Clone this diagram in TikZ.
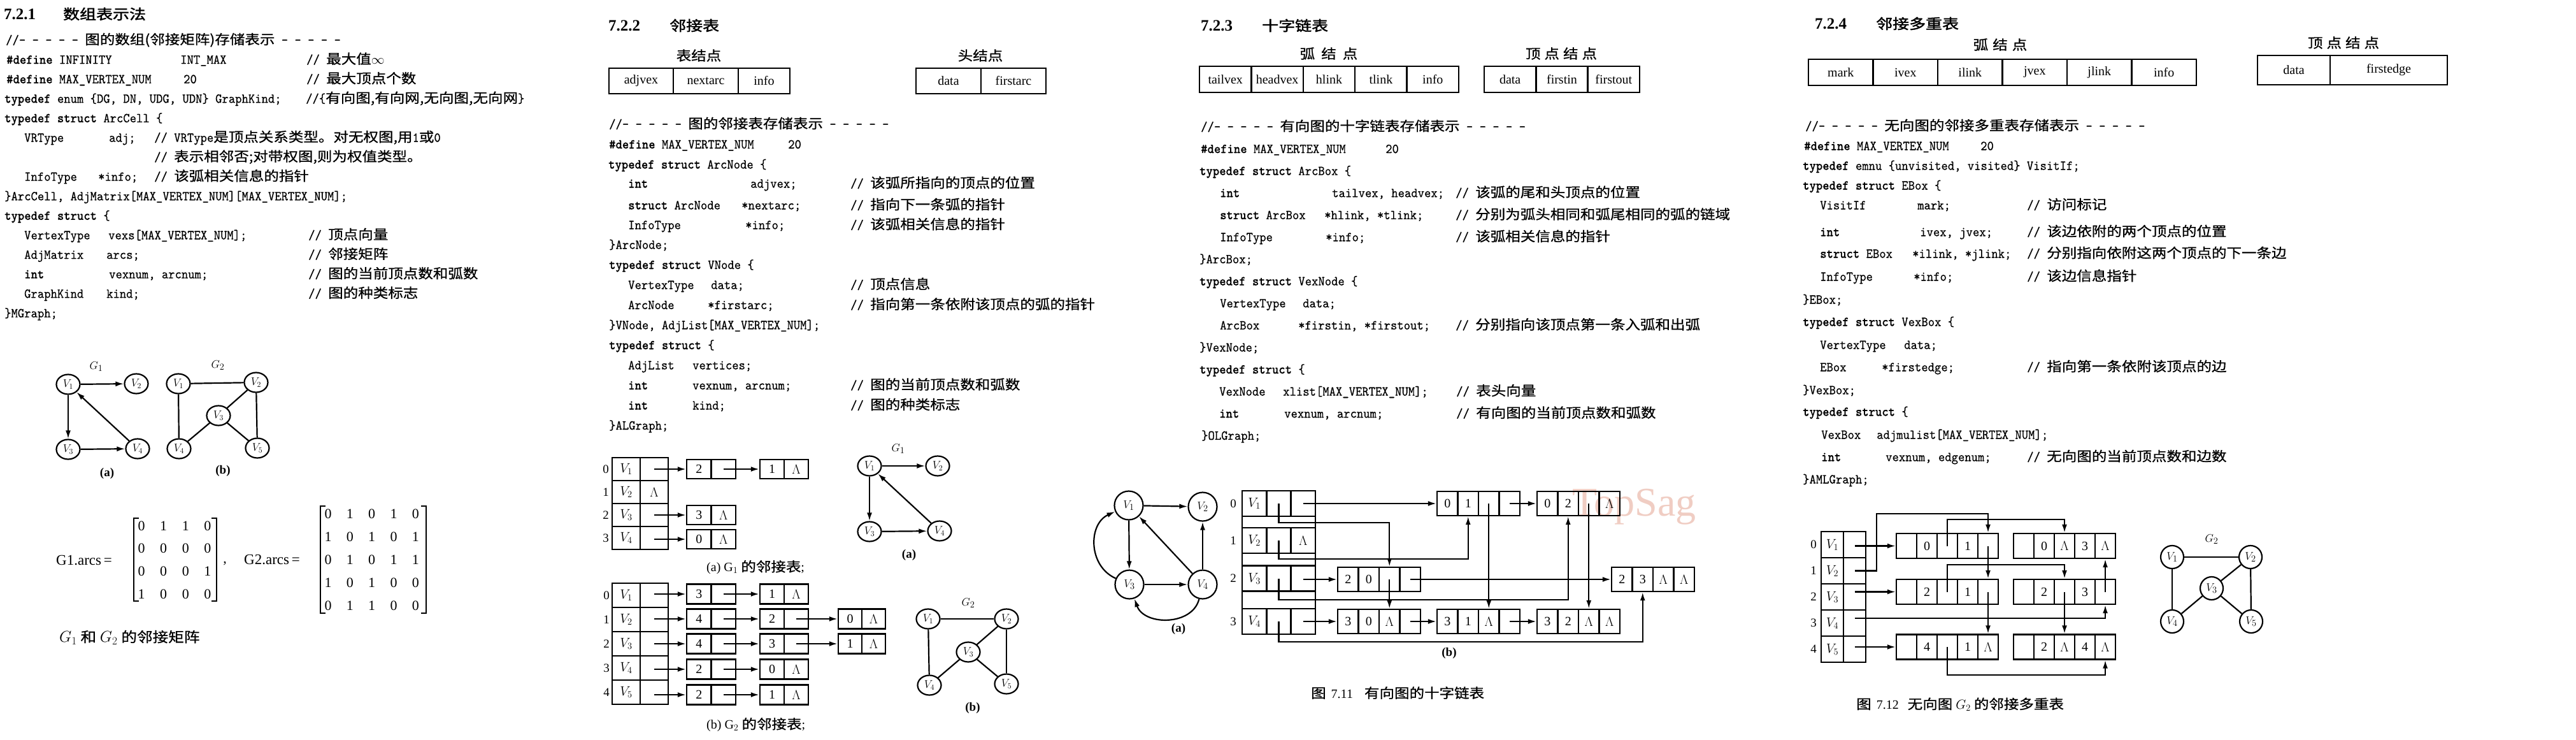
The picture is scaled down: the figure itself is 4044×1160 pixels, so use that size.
\documentclass[tikz,border=0pt]{standalone}
\usepackage{fontspec}
\setmainfont{Liberation Serif}
\newfontfamily\cf{lmmono10-regular.otf}[BoldFont=lmmonolt10-bold.otf, FakeStretch=0.925, FakeBold=0.5]
\newfontfamily\cjkf[FakeStretch=1.12,FakeBold=0.8]{Noto Sans CJK SC}
\newfontfamily\cjkb[FakeStretch=1.18,FakeBold=2]{Noto Sans CJK SC}
\usetikzlibrary{arrows.meta,shapes.geometric}
\definecolor{wm}{RGB}{240,205,195}
\newcommand\zh[1]{{\fontsize{21}{23}\selectfont\cjkf #1}}
\newcommand\zhL[1]{{\fontsize{22}{24}\selectfont\cjkf #1}}
\newcommand\zhb[1]{{\fontsize{22}{24}\selectfont\cjkb #1}}
\newcommand\kw[1]{\textbf{#1}}
\newcommand\codefont{\fontsize{21.3}{24}\selectfont\cf}
\newcommand\CL[4]{\node[cd] (#1) at (#2,#3) {#4};}
\newcommand\cellrow[6]{\foreach \cellc [count=\celli] in {#6} {\node[cellb, minimum width=#4pt, minimum height=#5pt] (#1-\celli) at ({#2+(\celli-0.5)*#4},#3) {\cellc};}}
\begin{document}
\begin{tikzpicture}[x=1pt,y=-1pt,
 cd/.style={anchor=west, inner sep=0pt, font=\codefont, text height=13pt, text depth=4pt},
 ttl/.style={anchor=west, inner sep=0pt, font=\fontsize{25}{27}\selectfont\bfseries},
 lbl/.style={inner sep=0pt},
 txt/.style={inner sep=0pt, font=\fontsize{19}{21}\selectfont},
 txtb/.style={inner sep=0pt, font=\fontsize{19}{21}\selectfont\bfseries},
 txtw/.style={anchor=west, inner sep=0pt, font=\fontsize{20}{22}\selectfont},
 cellb/.style={draw, line width=2.4pt, inner sep=0pt, font=\fontsize{20}{22}\selectfont},
 fld/.style={draw, line width=2.4pt, inner sep=0pt, minimum height=40pt, font=\fontsize{20}{22}\selectfont},
 vx/.style={ellipse, draw, line width=2.2pt, inner sep=0pt, minimum width=37pt, minimum height=31pt, font=\fontsize{18}{20}\selectfont},
 vc/.style={circle, draw, line width=2.2pt, inner sep=0pt, minimum size=#1, font=\fontsize{19}{21}\selectfont},
 mx/.style={inner sep=0pt, font=\fontsize{22}{24}\selectfont},
 arr/.style={-{Latex[length=13pt,width=8pt]}, line width=2.2pt},
 ln/.style={line width=2.2pt}]
\fill[white] (0,0) rectangle (4044,1160);
\useasboundingbox (0,0) rectangle (4044,1160);
\node[anchor=west, inner sep=0pt, text=wm, font=\fontsize{64}{70}\selectfont] (wmk) at (2468,795) {TopSag};

% ================= Section 1 =================
\node[ttl] (t1a) at (6,22) {7.2.1};
\node[anchor=west, inner sep=0pt] (t1b) at (99,22) {\zhb{数组表示法}};
\CL{s1l0}{9}{65}{//- - - - - \zh{图的数组(邻接矩阵)存储表示} - - - - -}
\CL{s1l1a}{10}{95.6}{\kw{\#define} INFINITY}
\CL{s1l1b}{283}{95.6}{INT\_MAX}
\CL{s1l1c}{481}{95.6}{// \zh{最大值}$\infty$}
\CL{s1l2a}{10}{126.2}{\kw{\#define} MAX\_VERTEX\_NUM}
\CL{s1l2b}{288}{126.2}{20}
\CL{s1l2c}{481}{126.2}{// \zh{最大顶点个数}}
\CL{s1l3a}{7}{156.8}{\kw{typedef} enum \{DG, DN, UDG, UDN\} GraphKind;}
\CL{s1l3c}{480}{156.8}{//\{\zh{有向图,有向网,无向图,无向网}\}}
\CL{s1l4}{7}{187.4}{\kw{typedef struct} ArcCell \{}
\CL{s1l5a}{38}{218}{VRType}
\CL{s1l5b}{171}{218}{adj;}
\CL{s1l5c}{242}{218}{// VRType\zh{是顶点关系类型。对无权图,用}1\zh{或}0}
\CL{s1l6c}{242}{248.6}{// \zh{表示相邻否;对带权图,则为权值类型。}}
\CL{s1l7a}{38}{279.2}{InfoType}
\CL{s1l7b}{154}{279.2}{*info;}
\CL{s1l7c}{242}{279.2}{// \zh{该弧相关信息的指针}}
\CL{s1l8}{7}{309.8}{\}ArcCell, AdjMatrix[MAX\_VERTEX\_NUM][MAX\_VERTEX\_NUM];}
\CL{s1l9}{7}{340.4}{\kw{typedef struct} \{}
\CL{s1l10a}{38}{371}{VertexType}
\CL{s1l10b}{170}{371}{vexs[MAX\_VERTEX\_NUM];}
\CL{s1l10c}{484}{371}{// \zh{顶点向量}}
\CL{s1l11a}{38}{401.6}{AdjMatrix}
\CL{s1l11b}{167}{401.6}{arcs;}
\CL{s1l11c}{484}{401.6}{// \zh{邻接矩阵}}
\CL{s1l12a}{38}{432.2}{\kw{int}}
\CL{s1l12b}{171}{432.2}{vexnum, arcnum;}
\CL{s1l12c}{484}{432.2}{// \zh{图的当前顶点数和弧数}}
\CL{s1l13a}{38}{462.8}{GraphKind}
\CL{s1l13b}{167}{462.8}{kind;}
\CL{s1l13c}{484}{462.8}{// \zh{图的种类标志}}
\CL{s1l14}{7}{493.4}{\}MGraph;}

% graphs G1, G2
\node[txt] (s1g1) at (151,575) {$G_1$};
\node[vx] (p1) at (107,603) {$V_1$};
\node[vx] (p2) at (214,602) {$V_2$};
\node[vx] (p3) at (107,705) {$V_3$};
\node[vx] (p4) at (216,704) {$V_4$};
\draw[arr] (p1) -- (p2);
\draw[arr] (p1) -- (p3);
\draw[arr] (p3) -- (p4);
\draw[arr] (p4) -- (p1);
\node[txtb] (s1a) at (168,743) {(a)};
\node[txt] (s1g2) at (342,573) {$G_2$};
\node[vx] (q1) at (280,602) {$V_1$};
\node[vx] (q2) at (402,600) {$V_2$};
\node[vx] (q3) at (343,652) {$V_3$};
\node[vx] (q4) at (281,704) {$V_4$};
\node[vx] (q5) at (404,703) {$V_5$};
\draw[ln] (q1) -- (q2);
\draw[ln] (q1) -- (q4);
\draw[ln] (q2) -- (q3);
\draw[ln] (q2) -- (q5);
\draw[ln] (q3) -- (q4);
\draw[ln] (q3) -- (q5);
\node[txtb] (s1b) at (350,739) {(b)};

% matrices
\node[anchor=west, inner sep=0pt, font=\fontsize{23}{25}\selectfont] (m1lab) at (88,879) {G1.arcs\,=};
\foreach \mrow [count=\r] in {{0,1,1,0},{0,0,0,0},{0,0,0,1},{1,0,0,0}} {
  \foreach \v [count=\c] in \mrow {\node[mx] (ma-\r-\c) at ({187.5+34.6*\c},{789.3+35.7*\r}) {\v};}}
\draw[line width=1.6pt] (218,813) -- (210,813) -- (210,943) -- (218,943);
\draw[line width=1.6pt] (332,813) -- (340,813) -- (340,943) -- (332,943);
\node[mx] (mcomma) at (353,884) {,};
\node[anchor=west, inner sep=0pt, font=\fontsize{23}{25}\selectfont] (m2lab) at (383,878) {G2.arcs\,=};
\foreach \mrow [count=\r] in {{0,1,0,1,0},{1,0,1,0,1},{0,1,0,1,1},{1,0,1,0,0},{0,1,1,0,0}} {
  \foreach \v [count=\c] in \mrow {\node[mx] (mb-\r-\c) at ({480.8+34.3*\c},{770+36*\r}) {\v};}}
\draw[line width=1.6pt] (511,794) -- (503,794) -- (503,962) -- (511,962);
\draw[line width=1.6pt] (661,794) -- (669,794) -- (669,962) -- (661,962);
\node[anchor=west, inner sep=0pt, font=\fontsize{23}{25}\selectfont] (mcap) at (93,1000) {$G_1$ \zhL{和} $G_2$ \zhL{的邻接矩阵}};

% ================= Section 2 =================
\node[ttl] (t2a) at (955,40) {7.2.2};
\node[anchor=west, inner sep=0pt] (t2b) at (1051,40) {\zhb{邻接表}};
\node[lbl] (l2a) at (1097,87) {\zh{表结点}};
\node[lbl] (l2b) at (1539,87) {\zh{头结点}};
\node[fld, minimum width=101pt] (f2a) at (1006.5,127) {adjvex};
\node[fld, minimum width=102pt] (f2b) at (1108,127) {nextarc};
\node[fld, minimum width=81pt] (f2c) at (1199.5,127) {info};
\node[fld, minimum width=102pt] (f2d) at (1489,127) {data};
\node[fld, minimum width=102pt] (f2e) at (1591,127) {firstarc};

\CL{s2l0}{956}{197}{//- - - - - \zh{图的邻接表存储表示} - - - - -}
\CL{s2l1a}{956}{228.5}{\kw{\#define} MAX\_VERTEX\_NUM}
\CL{s2l1b}{1237}{228.5}{20}
\CL{s2l2}{955}{260}{\kw{typedef struct} ArcNode \{}
\CL{s2l3a}{986}{290}{\kw{int}}
\CL{s2l3b}{1178}{290}{adjvex;}
\CL{s2l3c}{1335}{290}{// \zh{该弧所指向的顶点的位置}}
\CL{s2l4a}{986}{324}{\kw{struct} ArcNode}
\CL{s2l4b}{1164}{324}{*nextarc;}
\CL{s2l4c}{1335}{324}{// \zh{指向下一条弧的指针}}
\CL{s2l5a}{986}{355}{InfoType}
\CL{s2l5b}{1170}{355}{*info;}
\CL{s2l5c}{1335}{355}{// \zh{该弧相关信息的指针}}
\CL{s2l6}{956}{386}{\}ArcNode;}
\CL{s2l7}{956}{417.5}{\kw{typedef struct} VNode \{}
\CL{s2l8a}{986}{449}{VertexType}
\CL{s2l8b}{1116}{449}{data;}
\CL{s2l8c}{1335}{449}{// \zh{顶点信息}}
\CL{s2l9a}{986}{480.5}{ArcNode}
\CL{s2l9b}{1111}{480.5}{*firstarc;}
\CL{s2l9c}{1335}{480.5}{// \zh{指向第一条依附该顶点的弧的指针}}
\CL{s2l10}{956}{512}{\}VNode, AdjList[MAX\_VERTEX\_NUM];}
\CL{s2l11}{956}{543.5}{\kw{typedef struct} \{}
\CL{s2l12a}{986}{575}{AdjList}
\CL{s2l12b}{1087}{575}{vertices;}
\CL{s2l13a}{986}{606.5}{\kw{int}}
\CL{s2l13b}{1087}{606.5}{vexnum, arcnum;}
\CL{s2l13c}{1335}{606.5}{// \zh{图的当前顶点数和弧数}}
\CL{s2l14a}{986}{638}{\kw{int}}
\CL{s2l14b}{1087}{638}{kind;}
\CL{s2l14c}{1335}{638}{// \zh{图的种类标志}}
\CL{s2l15}{956}{669.5}{\}ALGraph;}

% adjacency list of G1
\foreach \k/\yy in {0/736,1/772,2/808,3/844} {\node[txt] (ia\k) at (951,\yy) {\k};}
\cellrow{ha0}{961}{736}{44}{36}{$V_1$,{}}
\cellrow{ha1}{961}{772}{44}{36}{$V_2$,$\Lambda$}
\cellrow{ha2}{961}{808}{44}{36}{$V_3$,{}}
\cellrow{ha3}{961}{844}{44}{36}{$V_4$,{}}
\cellrow{la0a}{1078}{736}{38.5}{30}{2,{}}
\cellrow{la0b}{1193}{736}{38}{30}{1,$\Lambda$}
\cellrow{la2a}{1078}{808}{38.5}{30}{3,$\Lambda$}
\cellrow{la3a}{1078}{846}{38.5}{30}{0,$\Lambda$}
\draw[arr] (ha0-2.center) -- (la0a-1.west);
\draw[arr] (la0a-2.center) -- (la0b-1.west);
\draw[arr] (ha2-2.center) -- (la2a-1.west);
\draw[arr] (ha3-2.center |- la3a-1.west) -- (la3a-1.west);
\node[anchor=west, inner sep=0pt, font=\fontsize{20}{22}\selectfont] (capa) at (1109,890) {(a) $\mathrm{G}_1$ \zh{的邻接表};};

% adjacency list of G2
\foreach \k/\yy in {0/934,1/972,2/1010,3/1048,4/1086} {\node[txt] (ib\k) at (952,\yy) {\k};}
\cellrow{hb0}{961}{934}{44}{38}{$V_1$,{}}
\cellrow{hb1}{961}{972}{44}{38}{$V_2$,{}}
\cellrow{hb2}{961}{1010}{44}{38}{$V_3$,{}}
\cellrow{hb3}{961}{1048}{44}{38}{$V_4$,{}}
\cellrow{hb4}{961}{1086}{44}{38}{$V_5$,{}}
\cellrow{lb0a}{1078}{932}{38.5}{31}{3,{}}
\cellrow{lb0b}{1193}{932}{38}{31}{1,$\Lambda$}
\cellrow{lb1a}{1078}{971}{38.5}{31}{4,{}}
\cellrow{lb1b}{1193}{971}{38}{31}{2,{}}
\cellrow{lb1c}{1316}{971}{37}{31}{0,$\Lambda$}
\cellrow{lb2a}{1078}{1010}{38.5}{31}{4,{}}
\cellrow{lb2b}{1193}{1010}{38}{31}{3,{}}
\cellrow{lb2c}{1316}{1010}{37}{31}{1,$\Lambda$}
\cellrow{lb3a}{1078}{1050}{38.5}{31}{2,{}}
\cellrow{lb3b}{1193}{1050}{38}{31}{0,$\Lambda$}
\cellrow{lb4a}{1078}{1090}{38.5}{31}{2,{}}
\cellrow{lb4b}{1193}{1090}{38}{31}{1,$\Lambda$}
\draw[arr] (hb0-2.center |- lb0a-1.west) -- (lb0a-1.west);
\draw[arr] (lb0a-2.center) -- (lb0b-1.west);
\draw[arr] (hb1-2.center |- lb1a-1.west) -- (lb1a-1.west);
\draw[arr] (lb1a-2.center) -- (lb1b-1.west);
\draw[arr] (lb1b-2.center) -- (lb1c-1.west);
\draw[arr] (hb2-2.center |- lb2a-1.west) -- (lb2a-1.west);
\draw[arr] (lb2a-2.center) -- (lb2b-1.west);
\draw[arr] (lb2b-2.center) -- (lb2c-1.west);
\draw[arr] (hb3-2.center |- lb3a-1.west) -- (lb3a-1.west);
\draw[arr] (lb3a-2.center) -- (lb3b-1.west);
\draw[arr] (hb4-2.center |- lb4a-1.west) -- (lb4a-1.west);
\draw[arr] (lb4a-2.center) -- (lb4b-1.west);
\node[anchor=west, inner sep=0pt, font=\fontsize{20}{22}\selectfont] (capb) at (1109,1137) {(b) $\mathrm{G}_2$ \zh{的邻接表};};

% graphs of section 2
\node[txt] (s2g1) at (1410,704) {$G_1$};
\node[vx] (u1) at (1365,731) {$V_1$};
\node[vx] (u2) at (1472,731) {$V_2$};
\node[vx] (u3) at (1365,834) {$V_3$};
\node[vx] (u4) at (1475,833) {$V_4$};
\draw[arr] (u1) -- (u2);
\draw[arr] (u1) -- (u3);
\draw[arr] (u3) -- (u4);
\draw[arr] (u4) -- (u1);
\node[txtb] (s2a) at (1427,871) {(a)};
\node[txt] (s2g2) at (1520,946) {$G_2$};
\node[vx] (w1) at (1457,971) {$V_1$};
\node[vx] (w2) at (1580,971) {$V_2$};
\node[vx] (w3) at (1520,1023) {$V_3$};
\node[vx] (w4) at (1459,1075) {$V_4$};
\node[vx] (w5) at (1580,1073) {$V_5$};
\draw[ln] (w1) -- (w2);
\draw[ln] (w1) -- (w4);
\draw[ln] (w2) -- (w3);
\draw[ln] (w2) -- (w5);
\draw[ln] (w3) -- (w4);
\draw[ln] (w3) -- (w5);
\node[txtb] (s2b) at (1527,1111) {(b)};

% ================= Section 3 =================
\node[ttl] (t3a) at (1885,40) {7.2.3};
\node[anchor=west, inner sep=0pt] (t3b) at (1981,40) {\zhb{十字链表}};
\node[lbl] (l3a) at (2086,84) {\zh{弧}\hspace{10pt}\zh{结}\hspace{10pt}\zh{点}};
\node[lbl] (l3b) at (2451,84) {\zh{顶}\hspace{6pt}\zh{点}\hspace{6pt}\zh{结}\hspace{6pt}\zh{点}};
\cellrow{f3}{1883}{124.5}{81.4}{41}{tailvex,headvex,hlink,tlink,info}
\cellrow{g3}{2330}{124.5}{81.3}{41}{data,firstin,firstout}

\CL{s3l0}{1885}{201}{//- - - - - \zh{有向图的十字链表存储表示} - - - - -}
\CL{s3l1a}{1885}{235.6}{\kw{\#define} MAX\_VERTEX\_NUM}
\CL{s3l1b}{2175}{235.6}{20}
\CL{s3l2}{1883}{270.2}{\kw{typedef struct} ArcBox \{}
\CL{s3l3a}{1915}{304.8}{\kw{int}}
\CL{s3l3b}{2091}{304.8}{tailvex, headvex;}
\CL{s3l3c}{2285}{304.8}{// \zh{该弧的尾和头顶点的位置}}
\CL{s3l4a}{1915}{339.4}{\kw{struct} ArcBox}
\CL{s3l4b}{2079}{339.4}{*hlink, *tlink;}
\CL{s3l4c}{2285}{339.4}{// \zh{分别为弧头相同和弧尾相同的弧的链域}}
\CL{s3l5a}{1915}{374}{InfoType}
\CL{s3l5b}{2081}{374}{*info;}
\CL{s3l5c}{2285}{374}{// \zh{该弧相关信息的指针}}
\CL{s3l6}{1883}{408.6}{\}ArcBox;}
\CL{s3l7}{1883}{443.2}{\kw{typedef struct} VexNode \{}
\CL{s3l8a}{1915}{477.8}{VertexType}
\CL{s3l8b}{2045}{477.8}{data;}
\CL{s3l9a}{1915}{512.4}{ArcBox}
\CL{s3l9b}{2038}{512.4}{*firstin, *firstout;}
\CL{s3l9c}{2285}{512.4}{// \zh{分别指向该顶点第一条入弧和出弧}}
\CL{s3l10}{1883}{547}{\}VexNode;}
\CL{s3l11}{1883}{581.6}{\kw{typedef struct} \{}
\CL{s3l12a}{1914}{616.2}{VexNode}
\CL{s3l12b}{2014}{616.2}{xlist[MAX\_VERTEX\_NUM];}
\CL{s3l12c}{2286}{616.2}{// \zh{表头向量}}
\CL{s3l13a}{1914}{650.8}{\kw{int}}
\CL{s3l13b}{2016}{650.8}{vexnum, arcnum;}
\CL{s3l13c}{2286}{650.8}{// \zh{有向图的当前顶点数和弧数}}
\CL{s3l14}{1886}{685.4}{\}OLGraph;}

% graph (a)
\node[vc=45pt] (o1) at (1772,793) {$V_1$};
\node[vc=45pt] (o2) at (1888,795) {$V_2$};
\node[vc=45pt] (o3) at (1773,917) {$V_3$};
\node[vc=45pt] (o4) at (1888,917) {$V_4$};
\draw[arr] (o1) -- (o2);
\draw[arr] (o1) -- (o3);
\draw[arr] (o3) -- (o4);
\draw[arr] (o4) -- (o2);
\draw[arr] (o4) -- (o1);
\draw[arr] (o3) .. controls (1708,888) and (1708,822) .. (o1);
\draw[arr] (o4) .. controls (1872,982) and (1796,982) .. (o3);
\node[txtb] (s3a) at (1850,987) {(a)};

% orthogonal list (b)
\foreach \k/\yy in {0/790,1/848,2/907.5,3/975} {\node[txt] (ic\k) at (1936,\yy) {\k};}
\draw[line width=2.4pt] (1950,770) rectangle (2065,995);
\cellrow{oh0}{1950}{790}{38.33}{40}{$V_1$,{},{}}
\cellrow{oh1}{1950}{848}{38.33}{40}{$V_2$,{},$\Lambda$}
\cellrow{oh2}{1950}{907.5}{38.33}{40}{$V_3$,{},{}}
\cellrow{oh3}{1950}{975}{38.33}{40}{$V_4$,{},{}}
\cellrow{a01}{2256}{790}{32.5}{38}{0,1,{},{}}
\cellrow{a02}{2413}{790}{32.5}{38}{0,2,{},$\Lambda$}
\cellrow{a20}{2100}{909}{32.5}{38}{2,0,{},{}}
\cellrow{a23}{2530}{909}{32.5}{38}{2,3,$\Lambda$,$\Lambda$}
\cellrow{a30}{2100}{975}{32.5}{38}{3,0,$\Lambda$,{}}
\cellrow{a31}{2256}{975}{32.5}{38}{3,1,$\Lambda$,{}}
\cellrow{a32}{2413}{975}{32.5}{38}{3,2,$\Lambda$,$\Lambda$}
\coordinate (r1) at (0,820);
\coordinate (r2) at (0,877);
\coordinate (r3) at (0,941);
\coordinate (r4) at (0,1007);
\draw[arr] (oh0-2.center) -- (oh0-2.center |- r1) -- (r1 -| a20-3) -- (a20-3.north);
\draw[arr] (oh1-2.center) -- (oh1-2.center |- r2) -- (r2 -| a01-2) -- (a01-2.south);
\draw[arr] (oh2-2.center) -- (oh2-2.center |- r3) -- (r3 -| a02-2) -- (a02-2.south);
\draw[arr] (oh3-2.center) -- (oh3-2.center |- r4) -- (r4 -| a23-2) -- (a23-2.south);
\draw[arr] (oh0-3.center) -- (a01-1.west);
\draw[arr] (oh2-3.center |- a20-1.west) -- (a20-1.west);
\draw[arr] (oh3-3.center) -- (a30-1.west);
\draw[arr] (a01-4.center) -- (a02-1.west);
\draw[arr] (a01-3.center) -- (a31-3.north);
\draw[arr] (a02-3.center) -- (a32-3.north);
\draw[arr] (a20-3.center) -- (a30-3.north);
\draw[arr] (a20-4.center) -- (a23-1.west);
\draw[arr] (a30-4.center) -- (a31-1.west);
\draw[arr] (a31-4.center) -- (a32-1.west);
\node[txtb] (s3b) at (2275,1025) {(b)};
\node[txtw] (cap3) at (2058,1087) {\zh{图}\hspace{8pt}7.11\hspace{18pt}\zh{有向图的十字链表}};

% ================= Section 4 =================
\node[ttl] (t4a) at (2849,37) {7.2.4};
\node[anchor=west, inner sep=0pt] (t4b) at (2945,37) {\zhb{邻接多重表}};
\node[lbl] (l4a) at (3140,70) {\zh{弧}\hspace{7pt}\zh{结}\hspace{7pt}\zh{点}};
\node[lbl] (l4b) at (3679,67) {\zh{顶}\hspace{6pt}\zh{点}\hspace{6pt}\zh{结}\hspace{6pt}\zh{点}};
\cellrow{f4}{2839}{113.5}{101.5}{41}{mark,ivex,ilink,jvex,jlink,info}
\node[fld, minimum width=114pt, minimum height=46pt] (g4a) at (3601,110) {data};
\node[fld, minimum width=184pt, minimum height=46pt] (g4b) at (3750,110) {firstedge};

\CL{s4l0}{2834}{200}{//- - - - - \zh{无向图的邻接多重表存储表示} - - - - -}
\CL{s4l1a}{2832}{231}{\kw{\#define} MAX\_VERTEX\_NUM}
\CL{s4l1b}{3109}{231}{20}
\CL{s4l2}{2830}{262}{\kw{typedef} emnu \{unvisited, visited\} VisitIf;}
\CL{s4l3}{2830}{293}{\kw{typedef struct} EBox \{}
\CL{s4l4a}{2857}{324}{VisitIf}
\CL{s4l4b}{3010}{324}{mark;}
\CL{s4l4c}{3182}{324}{// \zh{访问标记}}
\CL{s4l5a}{2857}{366}{\kw{int}}
\CL{s4l5b}{3014}{366}{ivex, jvex;}
\CL{s4l5c}{3182}{366}{// \zh{该边依附的两个顶点的位置}}
\CL{s4l6a}{2857}{400}{\kw{struct} EBox}
\CL{s4l6b}{3002}{400}{*ilink, *jlink;}
\CL{s4l6c}{3182}{400}{// \zh{分别指向依附这两个顶点的下一条边}}
\CL{s4l7a}{2857}{436}{InfoType}
\CL{s4l7b}{3004}{436}{*info;}
\CL{s4l7c}{3182}{436}{// \zh{该边信息指针}}
\CL{s4l8}{2830}{472}{\}EBox;}
\CL{s4l9}{2830}{507}{\kw{typedef struct} VexBox \{}
\CL{s4l10a}{2857}{543}{VertexType}
\CL{s4l10b}{2989}{543}{data;}
\CL{s4l11a}{2857}{578}{EBox}
\CL{s4l11b}{2954}{578}{*firstedge;}
\CL{s4l11c}{3182}{578}{// \zh{指向第一条依附该顶点的边}}
\CL{s4l12}{2830}{614}{\}VexBox;}
\CL{s4l13}{2830}{648}{\kw{typedef struct} \{}
\CL{s4l14a}{2859}{684}{VexBox}
\CL{s4l14b}{2946}{684}{adjmulist[MAX\_VERTEX\_NUM];}
\CL{s4l15a}{2859}{719}{\kw{int}}
\CL{s4l15b}{2960}{719}{vexnum, edgenum;}
\CL{s4l15c}{3182}{719}{// \zh{无向图的当前顶点数和边数}}
\CL{s4l16}{2830}{754}{\}AMLGraph;}

% adjacency multilist
\foreach \k/\yy in {0/854.5,1/895.5,2/936.5,3/977.5,4/1018.5} {\node[txt] (id\k) at (2847,\yy) {\k};}
\cellrow{mh0}{2859}{854.5}{35}{41}{$V_1$,{}}
\cellrow{mh1}{2859}{895.5}{35}{41}{$V_2$,{}}
\cellrow{mh2}{2859}{936.5}{35}{41}{$V_3$,{}}
\cellrow{mh3}{2859}{977.5}{35}{41}{$V_4$,{}}
\cellrow{mh4}{2859}{1018.5}{35}{41}{$V_5$,{}}
\cellrow{e01}{2977}{856.5}{32}{39}{{},0,{},1,{}}
\cellrow{e03}{3161}{856.5}{32}{39}{{},0,$\Lambda$,3,$\Lambda$}
\cellrow{e21}{2977}{928.5}{32}{39}{{},2,{},1,{}}
\cellrow{e23}{3161}{928.5}{32}{39}{{},2,{},3,{}}
\cellrow{e41}{2977}{1015}{32}{39}{{},4,{},1,$\Lambda$}
\cellrow{e24}{3161}{1015}{32}{39}{{},2,$\Lambda$,4,$\Lambda$}
\coordinate (k1) at (2946,806);
\coordinate (k2) at (0,815);
\coordinate (k3) at (0,886);
\coordinate (k4) at (0,1059);
\coordinate (k5) at (0,970);
\draw[arr] (mh0-2.center |- e01-1.west) -- (e01-1.west);
\draw[arr] (mh1-2.center) -- (mh1-2.center -| k1) -- (k1) -- (k1 -| e01-5) -- (e01-5.north);
\draw[arr] (mh2-2.center |- e21-1.west) -- (e21-1.west);
\draw[arr] (mh3-2.center |- k5) -- (k5 -| e23-5) -- (e23-5.south);
\draw[arr] (mh4-2.center |- e41-1.west) -- (e41-1.west);
\draw[arr] (e01-3.center) -- (e01-3.center |- k2) -- (k2 -| e03-3) -- (e03-3.north);
\draw[arr] (e01-5.center) -- (e21-5.north);
\draw[arr] (e21-5.center) -- (e41-5.north);
\draw[arr] (e21-3.center) -- (e21-3.center |- k3) -- (k3 -| e23-3) -- (e23-3.north);
\draw[arr] (e23-3.center) -- (e24-3.north);
\draw[arr] (e23-5.center) -- (e03-5.south);
\draw[arr] (e41-3.center) -- (e41-3.center |- k4) -- (k4 -| e24-5) -- (e24-5.south);

% graph G2
\node[txt] (s4g2) at (3472,846) {$G_2$};
\node[vc=36pt] (n1) at (3410,874) {$V_1$};
\node[vc=36pt] (n2) at (3533,874) {$V_2$};
\node[vc=36pt] (n3) at (3472,923) {$V_3$};
\node[vc=36pt] (n4) at (3410,975) {$V_4$};
\node[vc=36pt] (n5) at (3534,975) {$V_5$};
\draw[ln] (n1) -- (n2);
\draw[ln] (n1) -- (n4);
\draw[ln] (n2) -- (n3);
\draw[ln] (n2) -- (n5);
\draw[ln] (n3) -- (n4);
\draw[ln] (n3) -- (n5);
\node[txtw] (cap4) at (2914,1105) {\zh{图}\hspace{8pt}7.12\hspace{14pt}\zh{无向图} $G_2$ \zh{的邻接多重表}};
\end{tikzpicture}
\end{document}
